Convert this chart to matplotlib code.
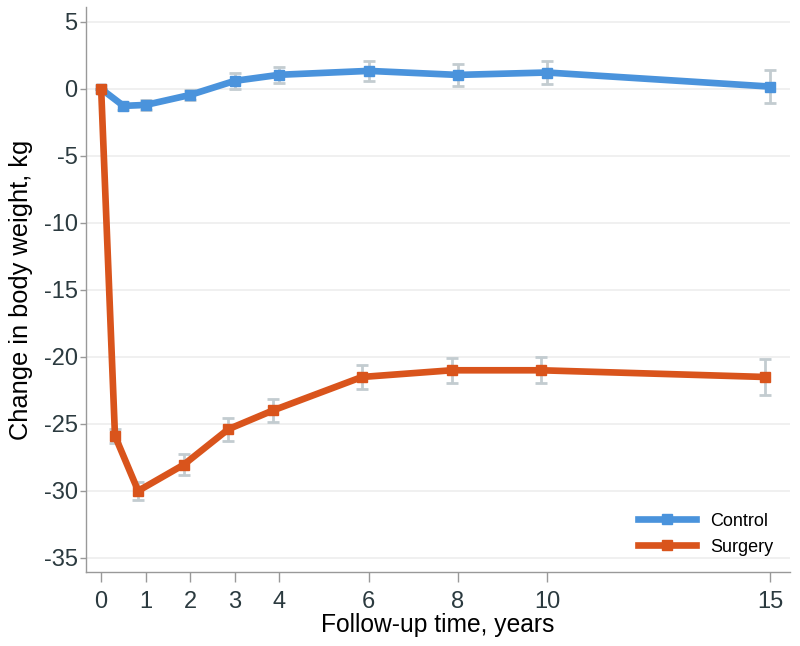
import matplotlib.pyplot as plt

# follow-up times (years); surgery points are shifted slightly left in the original
control_t = [0, 0.5, 1, 2, 3, 4, 6, 8, 10, 15]
control_kg = [0, -1.27, -1.2, -0.45, 0.6, 1.05, 1.34, 1.04, 1.22, 0.17]
control_err = [0, 0.3, 0.4, 0.4, 0.6, 0.6, 0.72, 0.82, 0.86, 1.25]

surgery_t = [0, 0.31, 0.83, 1.85, 2.85, 3.85, 5.85, 7.86, 9.87, 14.89]
surgery_kg = [0, -25.9, -30.0, -28.05, -25.4, -24.0, -21.5, -21.0, -21.0, -21.5]
surgery_err = [0, 0.5, 0.65, 0.8, 0.85, 0.87, 0.9, 0.95, 0.98, 1.37]

xticks = [0, 1, 2, 3, 4, 6, 8, 10, 15]
yticks = [5, 0, -5, -10, -15, -20, -25, -30, -35]

plt.rcParams['font.family'] = ['Liberation Sans', 'DejaVu Sans']
plt.rcParams['axes.unicode_minus'] = False

fig = plt.figure(figsize=(8, 6.46), dpi=100)
ax = fig.add_axes([0.1075, 0.1146, 0.88, 0.8744])

blue = '#4a93dc'
orange = '#d9541c'
errc = '#c3ccd0'

for t, v, e in [(control_t, control_kg, control_err), (surgery_t, surgery_kg, surgery_err)]:
    ax.errorbar(t, v, yerr=e, fmt='none', ecolor=errc, elinewidth=2,
                capsize=4.5, capthick=2, zorder=2)

ax.plot(control_t, control_kg, color=blue, lw=4.8, marker='s', ms=7.5,
        label='Control', zorder=3)
ax.plot(surgery_t, surgery_kg, color=orange, lw=4.8, marker='s', ms=7.5,
        label='Surgery', zorder=3)

ax.set_xlim(-0.34, 15.45)
ax.set_ylim(-36.05, 6.1)
ax.set_xticks(xticks)
ax.set_yticks(yticks)

ax.grid(axis='y', color='#eeeeee', lw=1.2)
ax.set_axisbelow(True)
for s in ['top', 'right']:
    ax.spines[s].set_visible(False)
for s in ['left', 'bottom']:
    ax.spines[s].set_color('#999999')
    ax.spines[s].set_linewidth(1.0)

ax.tick_params(axis='x', length=7, width=1, color='#999999', labelsize=17,
               labelcolor='#2b3a3f', pad=7)
ax.tick_params(axis='y', length=4, width=1, color='#999999', labelsize=17,
               labelcolor='#2b3a3f', pad=2)

ax.set_xlabel('Follow-up time, years', fontsize=17.7, labelpad=0)
ax.set_ylabel('Change in body weight, kg', fontsize=18.3, labelpad=8)

ax.legend(loc='lower right', frameon=False, fontsize=13, handlelength=3.2,
          bbox_to_anchor=(1.0, 0.0), labelspacing=0.5)

fig.savefig('out.png', dpi=100)
